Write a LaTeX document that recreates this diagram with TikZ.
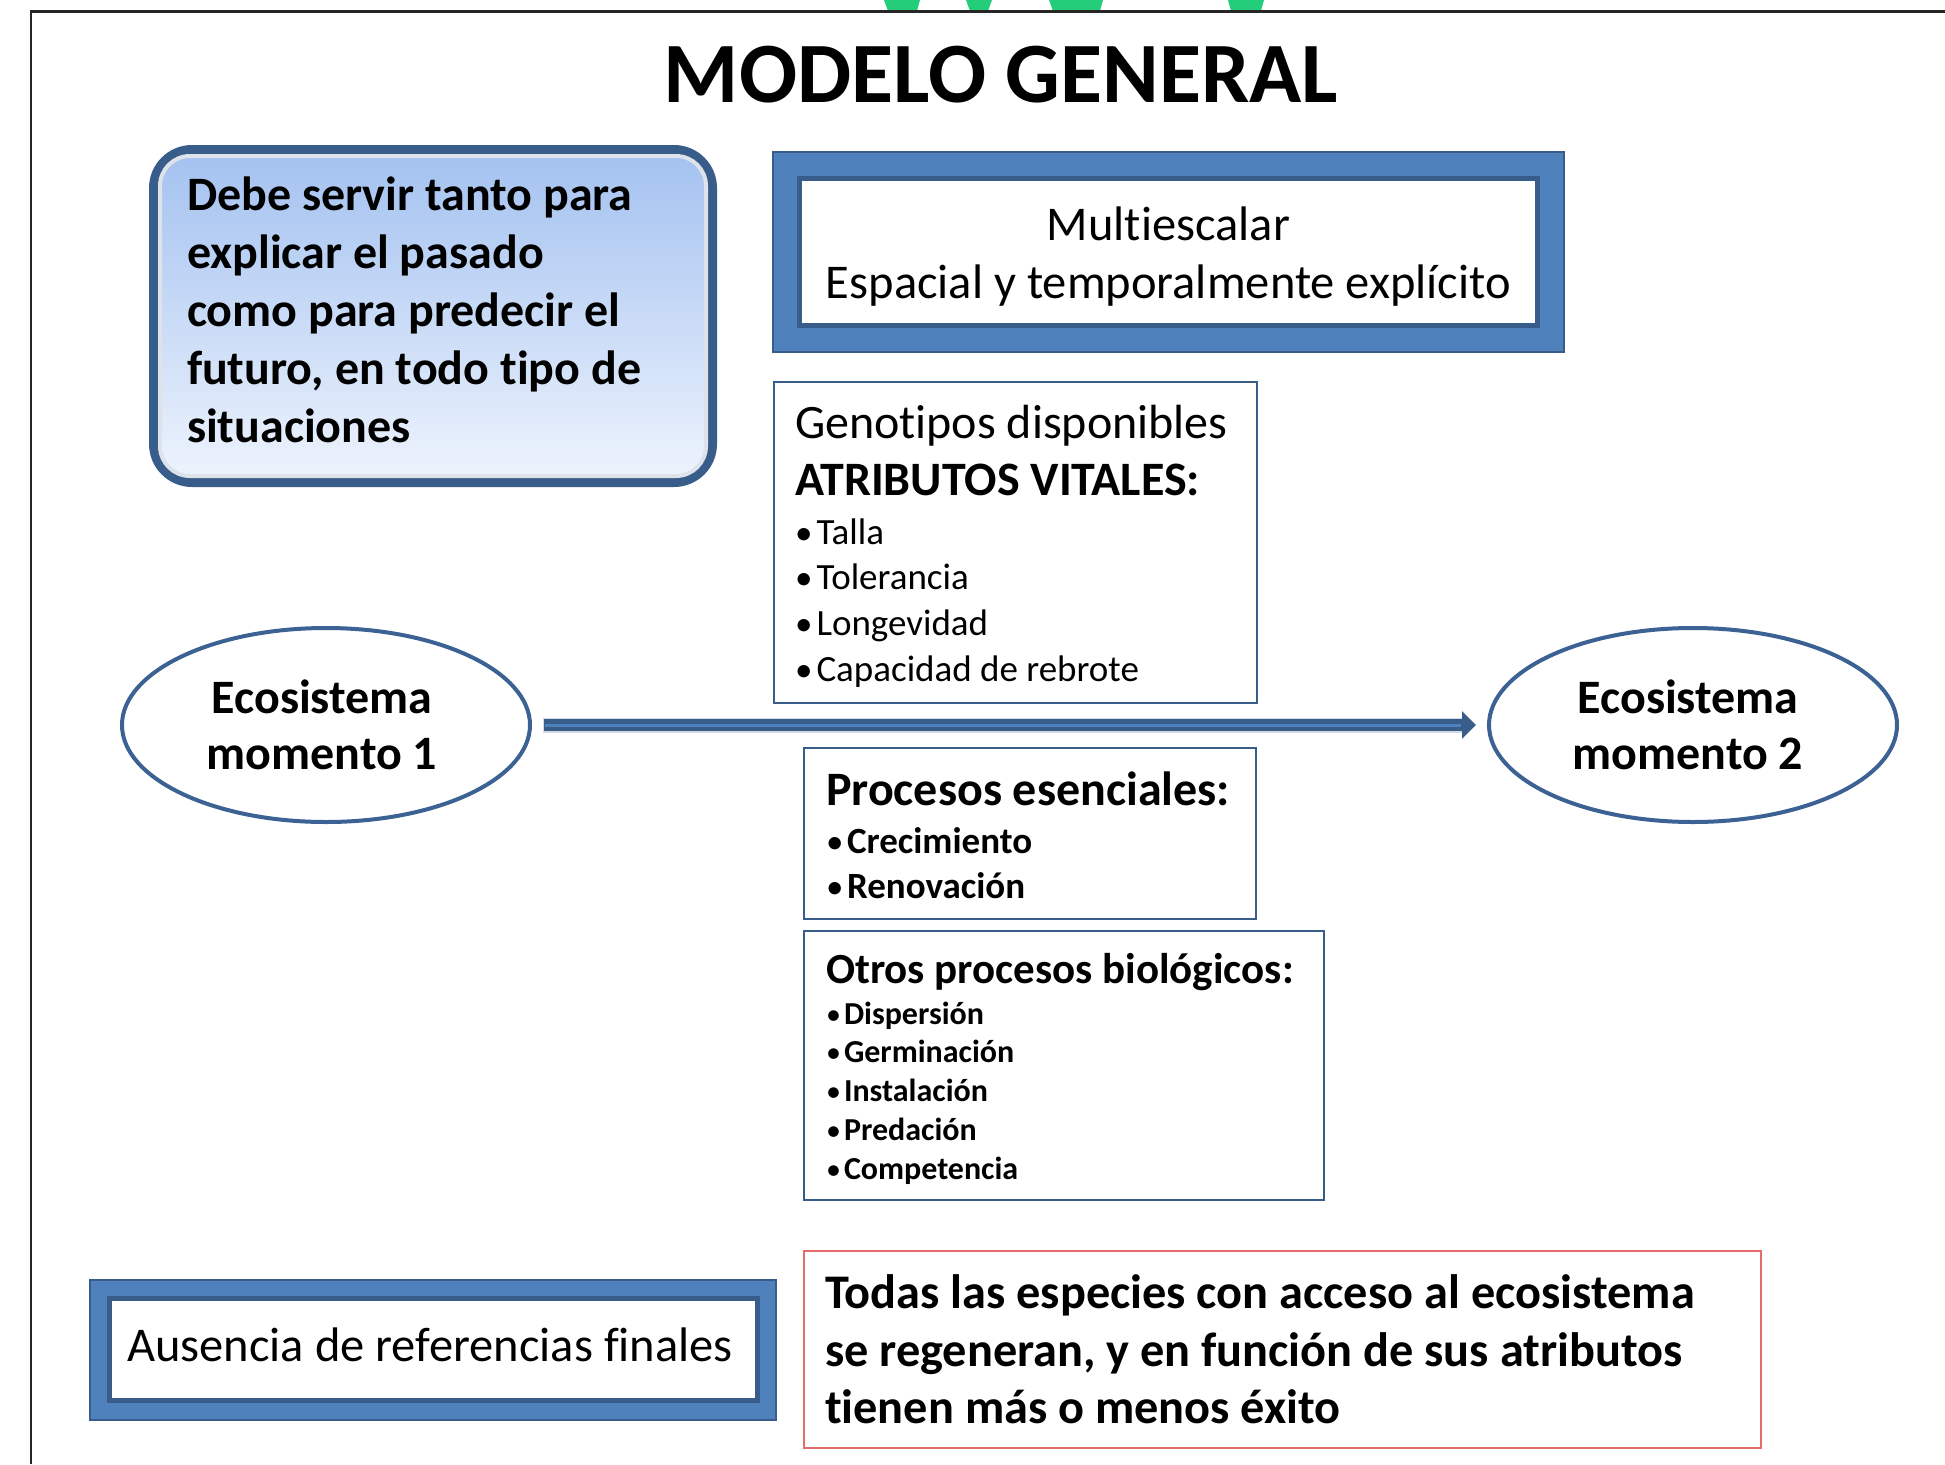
\documentclass[tikz,border=0pt]{standalone}
\usepackage{fontspec}
\setmainfont{Carlito}[Ligatures=NoCommon]
\usetikzlibrary{arrows.meta,shapes.geometric}
\definecolor{band}{RGB}{79,129,189}
\definecolor{dkblue}{RGB}{56,93,138}
\definecolor{ellblue}{RGB}{60,98,148}
\definecolor{redline}{RGB}{228,108,108}
\definecolor{greenw}{RGB}{36,205,122}
\definecolor{boxtop}{RGB}{163,193,240}
\definecolor{boxbot}{RGB}{238,244,253}
\definecolor{bevel}{RGB}{222,226,234}
\newcommand{\fsz}[2]{\fontsize{#1}{#2}\selectfont}
\newcommand{\blt}[2]{\makebox[#1][l]{\normalfont\fontsize{#2}{#2}\selectfont •}}
\tikzset{
  txt/.style={inner sep=0, outer sep=0, anchor=base west},
  ctxt/.style={inner sep=0, outer sep=0, anchor=base},
  thinbox/.style={draw=dkblue, line width=2.2, fill=white, inner sep=0},
  bandbox/.style={draw=dkblue, line width=2, fill=band, inner sep=0},
  whitein/.style={draw=dkblue, line width=5, fill=white, inner sep=0},
  ell/.style={ellipse, draw=ellblue, line width=4, fill=white, minimum width=408, minimum height=194, inner sep=0},
  greenpart/.style={fill=greenw},
}
\begin{document}
\begin{tikzpicture}[x=1pt,y=-1pt]
\useasboundingbox (0,0) rectangle (1945,1464);
\fill[white] (0,0) rectangle (1945,1464);
% green fragments at top
\fill[greenpart] (884,0) -- (920,0) -- (917,11) -- (888,11) -- cycle;
\fill[greenpart] (966,0) -- (992,0) -- (988,11) -- (970,11) -- cycle;
\fill[greenpart] (1049,0) -- (1103,0) -- (1100,11) -- (1053,11) -- cycle;
\fill[greenpart] (1228,0) -- (1264,0) -- (1261,11) -- (1231,11) -- cycle;
% frame
\draw[line width=2.4, black!85] (31,1464) -- (31,11.7) -- (1945,11.7);

% title
\node[ctxt, font=\bfseries\fsz{86}{100}] (title) at (1001,102) {MODELO GENERAL};

% rounded box
\node[draw=dkblue, line width=10, rounded corners=38, shade, top color=boxtop, bottom color=boxbot,
      minimum width=558, minimum height=332, inner sep=0] (debe) at (433,316) {};
\draw[bevel, line width=4, rounded corners=30]
  ([xshift=11,yshift=-11]debe.north west) rectangle ([xshift=-11,yshift=11]debe.south east);
\node[txt, font=\bfseries\fsz{48}{58}] (debet) at (187,210.5)
  {\begin{tabular}[t]{@{}l@{}}Debe servir tanto para\\explicar el pasado\\como para predecir el\\futuro, en todo tipo de\\situaciones\end{tabular}};

% Multiescalar box
\node[bandbox, minimum width=791, minimum height=200] (multi) at (1168.5,252) {};
\node[whitein, minimum width=738, minimum height=147] (multiin) at (1168.5,252) {};
\node[ctxt, font=\fsz{48.5}{57}] (multia) at (1168.5,240) {Multiescalar};
\node[ctxt, font=\fsz{48.5}{57}] (multib) at (1168.5,298) {Espacial y temporalmente explícito};

% Genotipos box
\node[thinbox, minimum width=483, minimum height=321] (geno) at (1015.5,542.5) {};
\node[txt, font=\fsz{48}{57}] (genoh) at (795,438)
  {\begin{tabular}[t]{@{}l@{}}Genotipos disponibles\\\textbf{ATRIBUTOS VITALES:}\end{tabular}};
\node[txt, font=\fsz{37}{45.7}] (genoi) at (795,544)
  {\begin{tabular}[t]{@{}l@{}}\blt{21.5pt}{35}Talla\\\blt{21.5pt}{35}Tolerancia\\\blt{21.5pt}{35}Longevidad\\\blt{21.5pt}{35}Capacidad de rebrote\end{tabular}};

% ellipses
\node[ell] (e1) at (326,725) {};
\node[ell] (e2) at (1693,725) {};
\node[ctxt, font=\bfseries\fsz{48}{56}] (e1t) at (322,713)
  {\begin{tabular}[t]{@{}c@{}}Ecosistema\\momento 1\end{tabular}};
\node[ctxt, font=\bfseries\fsz{48}{56}] (e2t) at (1688,713)
  {\begin{tabular}[t]{@{}c@{}}Ecosistema\\momento 2\end{tabular}};

% arrow
\draw[dkblue!22, line width=15, shorten <=11, shorten >=24] (e1.east) -- (e2.west);
\draw[dkblue, line width=12.6, shorten <=12, shorten >=11, -{Triangle[length=14pt,width=27pt]}] (e1.east) -- (e2.west);
\draw[band, line width=3, shorten <=13, shorten >=26] (e1.east) -- (e2.west);

% Procesos esenciales
\node[thinbox, minimum width=452, minimum height=171] (proc) at (1030,833.5) {};
\node[txt, font=\bfseries\fsz{48}{57}] (proch) at (826,805.5) {Procesos esenciales:};
\node[txt, font=\bfseries\fsz{37}{45}] (proci) at (826,853)
  {\begin{tabular}[t]{@{}l@{}}\blt{21pt}{35}Crecimiento\\\blt{21pt}{35}Renovación\end{tabular}};

% Otros procesos
\node[thinbox, minimum width=520, minimum height=269] (otros) at (1064,1065.5) {};
\node[txt, font=\bfseries\fsz{43}{57}] (otrosh) at (826,983) {Otros procesos biológicos:};
\node[txt, font=\bfseries\fsz{32}{38.8}] (otrosi) at (826,1024)
  {\begin{tabular}[t]{@{}l@{}}\blt{18pt}{30}Dispersión\\\blt{18pt}{30}Germinación\\\blt{18pt}{30}Instalación\\\blt{18pt}{30}Predación\\\blt{18pt}{30}Competencia\end{tabular}};

% Ausencia box
\node[bandbox, minimum width=686, minimum height=140] (aus) at (433,1350) {};
\node[whitein, minimum width=648, minimum height=102] (ausin) at (433,1349.5) {};
\node[ctxt, font=\fsz{48.5}{57}] (aust) at (430,1361) {Ausencia de referencias finales};

% red box
\node[draw=redline, line width=2.5, fill=white, minimum width=957, minimum height=197, inner sep=0] (todas) at (1282.5,1349.5) {};
\node[txt, font=\bfseries\fsz{48.3}{57.7}] (todast) at (825,1308.5)
  {\begin{tabular}[t]{@{}l@{}}Todas las especies con acceso al ecosistema\\se regeneran, y en función de sus atributos\\tienen más o menos éxito\end{tabular}};
\end{tikzpicture}
\end{document}
